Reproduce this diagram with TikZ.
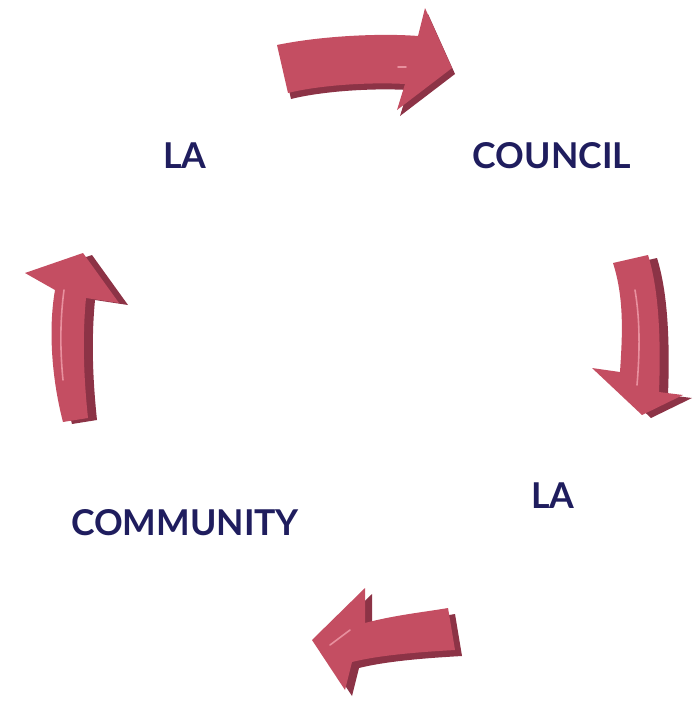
\documentclass[tikz,border=0pt]{standalone}
\usepackage{fontspec}
\setmainfont{Lato}[BoldFont={Lato Bold}]
\definecolor{arface}{HTML}{C44E62}
\definecolor{ardark}{HTML}{8C3346}
\definecolor{arlight}{HTML}{E8909E}
\definecolor{txt}{HTML}{1F1D5E}
\begin{document}
\begin{tikzpicture}[x=1pt,y=-1pt,
  lbl/.style={text=txt,font=\fontsize{35.6}{40}\selectfont\bfseries,inner sep=0pt,anchor=base},
  face/.style={fill=arface,draw=none},
  side/.style={fill=ardark,draw=none},
  shine/.style={draw=arlight,line width=1.6pt,line cap=round}]
\useasboundingbox (0,0) rectangle (695,707);

% Arrow 1 (top, pointing right)
\begin{scope}[shift={(3,6)}]
\fill[side] (277,45) .. controls (320,36) and (380,33) .. (418,36) -- (425,8) -- (452,68) -- (397,110) -- (405,84) .. controls (370,82) and (320,85) .. (288,93) -- cycle;
\end{scope}
\fill[face] (277,45) .. controls (320,36) and (380,33) .. (418,36) -- (425,8) -- (452,68) -- (397,110) -- (405,84) .. controls (370,82) and (320,85) .. (288,93) -- cycle;
\draw[shine] (398,67) -- (406,67);

% Arrow 2 (right, pointing down)
\begin{scope}[shift={(9,3)}]
\fill[side] (613,263) .. controls (625,300) and (622,340) .. (620,372) -- (592,368) -- (642,415) -- (683,395) -- (659,392) .. controls (661,340) and (659,290) .. (648,255) -- cycle;
\end{scope}
\fill[face] (613,263) .. controls (625,300) and (622,340) .. (620,372) -- (592,368) -- (642,415) -- (683,395) -- (659,392) .. controls (661,340) and (659,290) .. (648,255) -- cycle;
\draw[shine] (635,290) .. controls (640,320) and (640,350) .. (637,385);

% Arrow 3 (bottom, pointing left)
\begin{scope}[shift={(7,6)}]
\fill[side] (365,623) .. controls (395,615) and (425,612) .. (448,608) -- (455,650) .. controls (420,652) and (380,655) .. (352,662) -- (345,690) -- (312,640) -- (365,588) -- cycle;
\end{scope}
\fill[face] (365,623) .. controls (395,615) and (425,612) .. (448,608) -- (455,650) .. controls (420,652) and (380,655) .. (352,662) -- (345,690) -- (312,640) -- (365,588) -- cycle;
\draw[shine] (330,645) -- (350,630);

% Arrow 4 (left, pointing up)
\begin{scope}[shift={(9,2)}]
\fill[side] (55,290) .. controls (48,330) and (52,380) .. (63,422) -- (88,418) .. controls (84,380) and (82,340) .. (86,298) -- (119,303) -- (83,253) -- (25,273) -- cycle;
\end{scope}
\fill[face] (55,290) .. controls (48,330) and (52,380) .. (63,422) -- (88,418) .. controls (84,380) and (82,340) .. (86,298) -- (119,303) -- (83,253) -- (25,273) -- cycle;
\draw[shine] (64,290) .. controls (60,320) and (60,350) .. (63,380);

% Labels
\node[lbl] (la1) at (185,168) {LA};
\node[lbl] (council) at (552,168) {COUNCIL};
\node[lbl] (la2) at (553,508) {LA};
\node[lbl] (community) at (185,535) {COMMUNITY};
\end{tikzpicture}
\end{document}
